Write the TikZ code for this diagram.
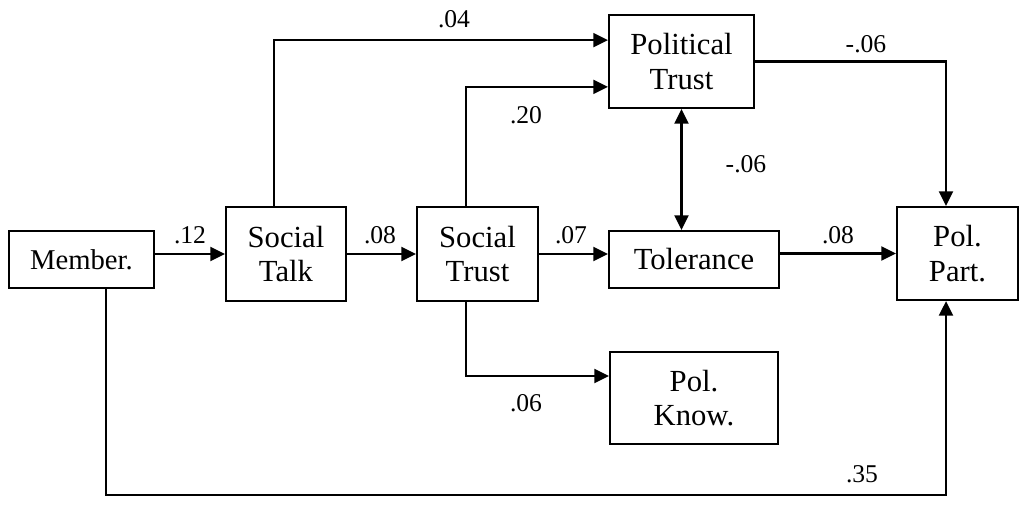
\documentclass[tikz,border=0pt]{standalone}
\usepackage{fontspec}
\setmainfont{Liberation Serif}
\usetikzlibrary{arrows.meta}

\begin{document}
\begin{tikzpicture}[x=0.75pt,y=-0.75pt,
    box/.style={draw, line width=1.6pt, align=center, inner sep=0pt,
      font=\fontsize{23}{26}\selectfont},
    wt/.style={anchor=base, inner sep=0pt, font=\fontsize{19.2}{20}\selectfont},
    path/.style={line width=1.6pt, -{Triangle[length=11pt,width=10.5pt]}}]
    \useasboundingbox (0,0) rectangle (1021,508);
    \node[box, minimum width=108.75pt, minimum height=42.75pt, font=\fontsize{21.5}{22}\selectfont] (member) at (81.5,259.5) {Member.};
    \node[box, minimum width=90pt, minimum height=70pt] (talk) at (286,254) {Social\\Talk};
    \node[box, minimum width=90.75pt, minimum height=70pt] (strust) at (477.5,254) {Social\\Trust};
    \node[box, minimum width=108.75pt, minimum height=69.75pt] (ptrust) at (681.5,61.5) {Political\\Trust};
    \node[box, minimum width=127.5pt, minimum height=42.75pt] (toler) at (694,259.5) {Tolerance};
    \node[box, minimum width=90.75pt, minimum height=69.75pt] (part) at (957.5,253.5) {Pol.\\Part.};
    \node[box, minimum width=126pt, minimum height=69pt] (know) at (694,398) {Pol.\\Know.};
    \coordinate (low) at (500,495);
    \draw[path] (member.east |- talk) -- (talk);
    \draw[path] (talk) -- (strust);
    \draw[path] (strust.east) -- (strust.east -| toler.west);
    \draw[path] (toler.east |- part) -- (part.west);
    \draw[path] ([xshift=-9pt]talk.north) |- ([yshift=16pt]ptrust.west);
    \draw[path] ([xshift=-8.6pt]strust.north) |- ([yshift=-19pt]ptrust.west);
    \draw[path] ([xshift=-8.6pt]strust.south) |- ([yshift=16.5pt]know.west);
    \draw[path] (ptrust.east) -| ([xshift=-8.6pt]part.north);
    \draw[path, {Triangle[length=11pt,width=10.5pt]}-{Triangle[length=11pt,width=10.5pt]}] (ptrust.south) -- (ptrust.south |- toler.north);
    \draw[path] ([xshift=18.4pt]member.south) |- (low) -| ([xshift=-8.6pt]part.south);
    \node[wt] (w12) at (190,243) {.12};
    \node[wt] (w08a) at (380,243) {.08};
    \node[wt] (w07) at (571,243) {.07};
    \node[wt] (w08b) at (838,243) {.08};
    \node[wt] (w04) at (454,27) {.04};
    \node[wt] (w20) at (526,123) {.20};
    \node[wt] (w06m) at (746,172) {-.06};
    \node[wt] (w06t) at (866,52) {-.06};
    \node[wt] (w06b) at (526,411) {.06};
    \node[wt] (w35) at (862,482) {.35};
  \end{tikzpicture}
\end{document}
